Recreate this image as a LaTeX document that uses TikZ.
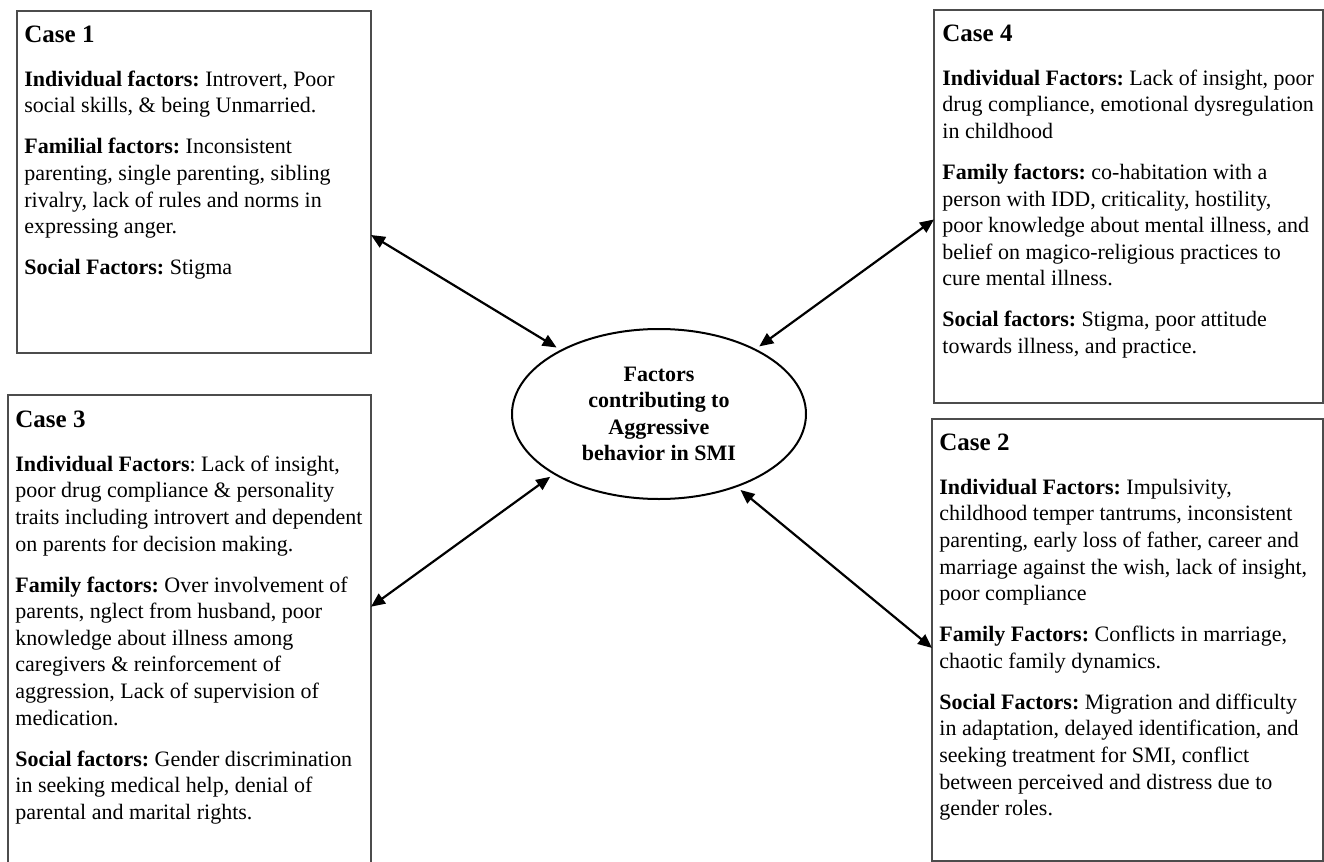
\documentclass[tikz,border=0pt]{standalone}
\usepackage{fontspec}
\setmainfont{Liberation Serif}
\usetikzlibrary{arrows.meta,shapes.geometric,calc}
\frenchspacing
\newcommand\casegap{\par\vspace{7.2pt}}
\newcommand\casehead[1]{{\fontsize{12.5}{13.3}\selectfont\bfseries #1}\par\vspace{8.7pt}}
\newcommand\casetextbox[1]{\parbox[t]{210pt}{\frenchspacing\parindent=0pt\parskip=0pt #1}}
\begin{document}
\begin{tikzpicture}[x=0.5pt,y=-0.5pt,
  casebox/.style={draw=black!70, line width=0.55pt, anchor=north west, inner sep=0pt, outer sep=0pt},
  casetext/.style={anchor=base west, inner sep=0pt, font=\fontsize{11}{13.3}\selectfont},
  hub/.style={ellipse, draw, line width=1pt, minimum width=147pt, minimum height=85pt, inner sep=0pt, outer sep=2.5pt, align=center, font=\fontsize{11}{13.3}\selectfont\bfseries},
  link/.style={{Triangle[length=7pt,width=6pt]}-{Triangle[length=7pt,width=6pt]}, line width=1.1pt}]
\useasboundingbox (0,0) rectangle (1324,862);
\fill[white] (0,0) rectangle (1324,862);

% boxes
\node[casebox, minimum width=177pt, minimum height=171pt] (c1) at (17,11) {};
\node[casebox, minimum width=194.5pt, minimum height=196.5pt] (c4) at (934,10) {};
\node[casebox, minimum width=181.5pt, minimum height=235.5pt] (c3) at (8,395) {};
\node[casebox, minimum width=195.5pt, minimum height=221pt] (c2) at (932,419) {};

% texts
\node[casetext] (t1) at (24,42.3) {\casetextbox{%
\casehead{Case 1}
\textbf{Individual factors:} Introvert, Poor\\
social skills, \& being Unmarried.\casegap
\textbf{Familial factors:} Inconsistent\\
parenting, single parenting, sibling\\
rivalry, lack of rules and norms in\\
expressing anger.\casegap
\textbf{Social Factors:} Stigma}};

\node[casetext] (t4) at (942,41.3) {\casetextbox{%
\casehead{Case 4}
\textbf{Individual Factors:} Lack of insight, poor\\
drug compliance, emotional dysregulation\\
in childhood\casegap
\textbf{Family factors:} co-habitation with a\\
person with IDD, criticality, hostility,\\
poor knowledge about mental illness, and\\
belief on magico-religious practices to\\
cure mental illness.\casegap
\textbf{Social factors:} Stigma, poor attitude\\
towards illness, and practice.}};

\node[casetext] (t3) at (15,427.3) {\casetextbox{%
\casehead{Case 3}
\textbf{Individual Factors}: Lack of insight,\\
poor drug compliance \& personality\\
traits including introvert and dependent\\
on parents for decision making.\casegap
\textbf{Family factors:} Over involvement of\\
parents, nglect from husband, poor\\
knowledge about illness among\\
caregivers \& reinforcement of\\
aggression, Lack of supervision of\\
medication.\casegap
\textbf{Social factors:} Gender discrimination\\
in seeking medical help, denial of\\
parental and marital rights.}};

\node[casetext] (t2) at (939,450.3) {\casetextbox{%
\casehead{Case 2}
\textbf{Individual Factors:} Impulsivity,\\
childhood temper tantrums, inconsistent\\
parenting, early loss of father, career and\\
marriage against the wish, lack of insight,\\
poor compliance\casegap
\textbf{Family Factors:} Conflicts in marriage,\\
chaotic family dynamics.\casegap
\textbf{Social Factors:} Migration and difficulty\\
in adaptation, delayed identification, and\\
seeking treatment for SMI, conflict\\
between perceived and distress due to\\
gender roles.}};

% hub
\node[hub] (e) at (659,414) {Factors\\contributing to\\Aggressive\\behavior in SMI};

% connectors
\draw[link] ($(c1.north east)!0.655!(c1.south east)$) -- (e.147);
\draw[link] (e.34) -- ($(c4.north west)!0.533!(c4.south west)$);
\draw[link] ($(c3.north east)!0.4495!(c3.south east)$) -- (e.210);
\draw[link] (e.317) -- ($(c2.north west)!0.518!(c2.south west)$);
\end{tikzpicture}
\end{document}
